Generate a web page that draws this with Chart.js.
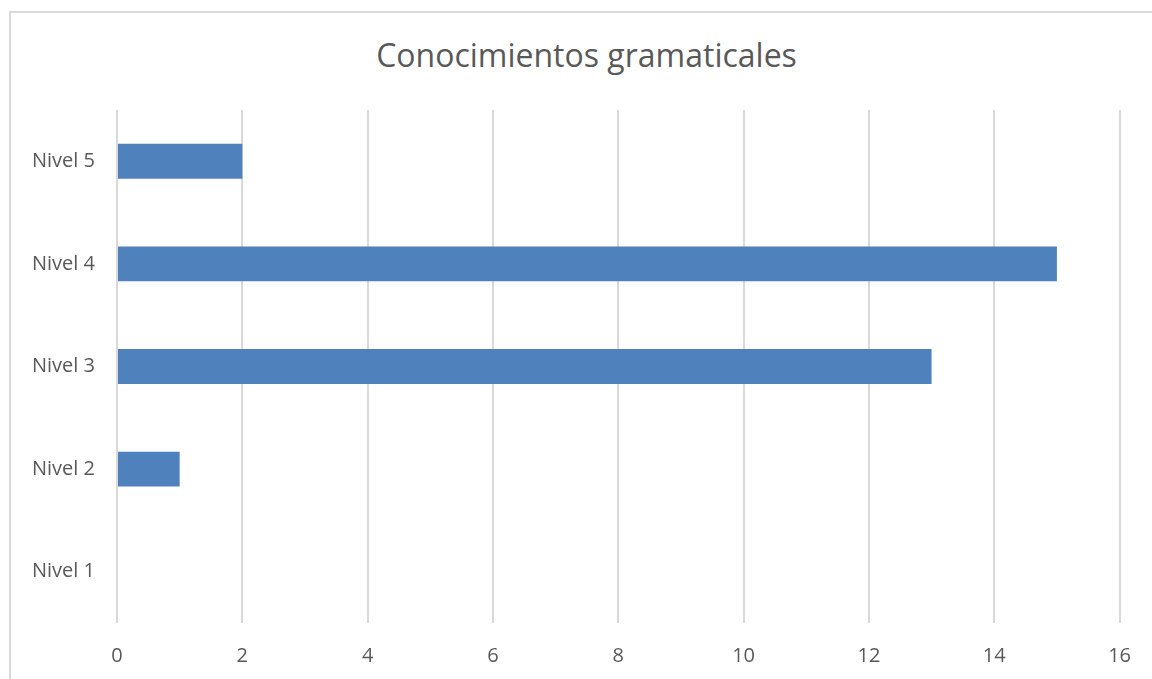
<!DOCTYPE html>
<html>
<head>
<meta charset="utf-8">
<script src="https://cdn.jsdelivr.net/npm/chart.js@4"></script>
<style>
  html, body { margin: 0; padding: 0; background: #fff; overflow: hidden; }
  .frame {
    position: absolute; left: 9px; top: 11px; width: 1160px; height: 700px;
    border: 2px solid #d9d9d9; box-sizing: border-box;
  }
  .title {
    position: absolute; left: 0; top: 33px; width: 1173px; text-align: center;
    font-family: "Open Sans", sans-serif; font-size: 32px; color: #595959;
  }
  .wrap { position: absolute; left: 0; top: 0; width: 1152px; height: 679px; }
</style>
</head>
<body>
<div class="frame"></div>
<div class="title">Conocimientos gramaticales</div>
<div class="wrap"><canvas id="chart"></canvas></div>
<script>
const categories = ["Nivel 1", "Nivel 2", "Nivel 3", "Nivel 4", "Nivel 5"];
const values = [0, 1, 13, 15, 2];
const xMin = 0;
const xMax = 16;
const xStep = 2;

const tickFont = { family: "'Open Sans', sans-serif", size: 20 };

new Chart(document.querySelector("#chart"), {
  type: "bar",
  data: {
    labels: categories,
    datasets: [
      {
        data: values,
        backgroundColor: "#4f81bd",
        borderWidth: 0,
        barPercentage: 0.34,
        categoryPercentage: 1
      }
    ]
  },
  options: {
    indexAxis: "y",
    responsive: true,
    maintainAspectRatio: false,
    animation: false,
    layout: { padding: { left: 0, right: 20, top: 110, bottom: 0 } },
    plugins: {
      legend: { display: false },
      tooltip: { enabled: false }
    },
    scales: {
      x: {
        min: xMin,
        max: xMax,
        ticks: { stepSize: xStep, color: "#595959", font: tickFont, padding: 21 },
        grid: { color: "#d9d9d9", lineWidth: 2, drawTicks: false },
        border: { display: false },
        afterFit: (scale) => { scale.height = 56; }
      },
      y: {
        reverse: true,
        ticks: { color: "#595959", font: tickFont, padding: 22 },
        grid: { display: false, drawTicks: false },
        border: { display: false },
        afterFit: (scale) => { scale.width = 117; }
      }
    }
  }
});
</script>
</body>
</html>
